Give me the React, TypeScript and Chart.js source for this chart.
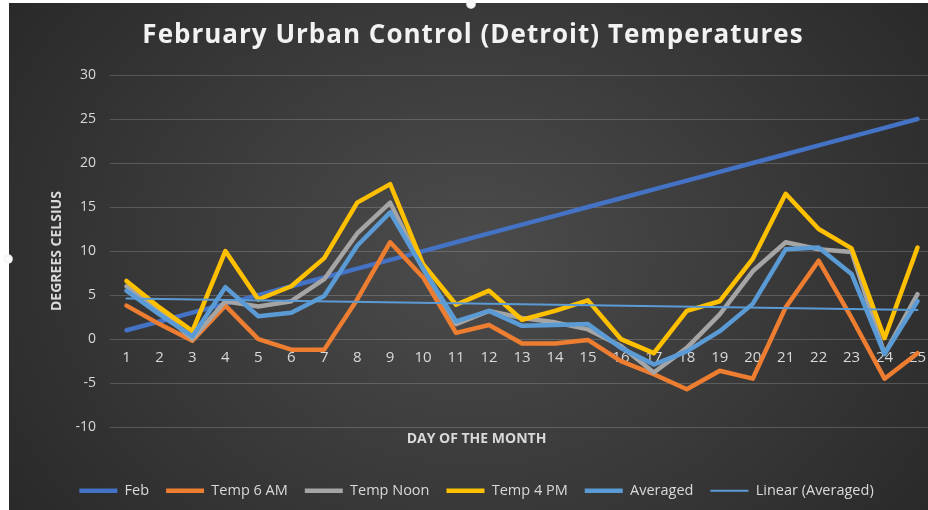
import React, { useEffect, useRef } from "react";
import { Chart, registerables } from "chart.js";

Chart.register(...registerables);

const days = ["1","2","3","4","5","6","7","8","9","10","11","12","13","14","15","16","17","18","19","20","21","22","23","24","25"];
const feb = [1,2,3,4,5,6,7,8,9,10,11,12,13,14,15,16,17,18,19,20,21,22,23,24,25];
const temp6am = [3.8,1.7,-0.2,3.8,0,-1.2,-1.2,4.5,11,7,0.7,1.6,-0.5,-0.5,-0.1,-2.5,-4,-5.7,-3.6,-4.5,3.6,8.9,2.4,-4.5,-1.6];
const tempNoon = [6.0,3.3,0,4.3,3.7,4.3,6.8,12,15.5,8,1.7,3.2,2.4,1.9,1.1,-0.8,-3.8,-1.0,2.8,7.7,11,10.2,9.9,-1.7,5.1];
const temp4pm = [6.6,3.6,0.9,10,4.5,6.0,9.2,15.5,17.6,8.5,3.9,5.5,2.2,3.2,4.4,0,-1.6,3.2,4.3,9.1,16.5,12.5,10.3,0.1,10.4];
const averaged = [5.5,2.8,0.3,5.9,2.6,3.0,4.9,10.6,14.4,8,2.0,3.2,1.5,1.6,1.7,-1.0,-2.9,-1.4,0.9,4.0,10.2,10.4,7.4,-1.7,4.3];
const trendDays = ["1","25"];
const trendValues = [4.6,3.3];

const chartTitle = "February Urban Control (Detroit) Temperatures";
const seriesNames = ["Feb","Temp 6 AM","Temp Noon","Temp 4 PM","Averaged","Linear (Averaged)"];
const seriesColors = ["#4472C4","#ED7D31","#A5A5A5","#FFC000","#5B9BD5","#5B9BD5"];

const FONT = "'Open Sans', 'DejaVu Sans', sans-serif";

const bgPlugin = {
  id: "bgGradient",
  beforeDraw(chart: any) {
    const { ctx, width, height } = chart;
    ctx.save();
    const cx = width / 2;
    const cy = height / 2;
    ctx.translate(cx, cy);
    ctx.scale(1, 0.8);
    const g = ctx.createRadialGradient(0, 0, 0, 0, 0, 600);
    g.addColorStop(0, "#4c4c4c");
    g.addColorStop(1, "#272727");
    ctx.fillStyle = g;
    ctx.fillRect(-cx - 10, -cy / 0.8 - 10, width + 20, height / 0.8 + 20);
    ctx.restore();
  },
  afterDraw(chart: any) {
    const { ctx, width } = chart;
    ctx.save();
    ctx.font = `bold 26px ${FONT}`;
    (ctx as any).letterSpacing = "1px";
    ctx.fillStyle = "#f2f2f2";
    ctx.textAlign = "center";
    ctx.textBaseline = "middle";
    ctx.fillText(chartTitle, width / 2, 33);
    ctx.restore();
  },
};

export default function App() {
  const ref = useRef<HTMLCanvasElement | null>(null);
  useEffect(() => {
    if (!ref.current) return;
    const base = (i: number, data: any, width: number) => ({
      label: seriesNames[i],
      data,
      borderColor: seriesColors[i],
      backgroundColor: seriesColors[i],
      borderWidth: width,
      pointRadius: 0,
      tension: 0,
      fill: false,
      borderJoinStyle: "round" as const,
      borderCapStyle: "round" as const,
      order: 6 - i,
    });
    const chart = new Chart(ref.current, {
      type: "line",
      data: {
        labels: days,
        datasets: [
          base(0, feb, 4.5),
          base(1, temp6am, 4.5),
          base(2, tempNoon, 4.5),
          base(3, temp4pm, 4.5),
          base(4, averaged, 4.5),
          base(5, trendDays.map((d, k) => ({ x: d, y: trendValues[k] })), 2),
        ],
      },
      options: {
        animation: false,
        responsive: false,
        devicePixelRatio: 1,
        layout: { padding: { left: 10, right: 3, top: 0, bottom: 2 } },
        plugins: {
          title: {
            display: true,
            text: chartTitle,
            color: "rgba(0,0,0,0)",
            font: { family: FONT, size: 26, weight: "bold" },
            padding: { top: 17.4, bottom: 23.4 },
          },
          subtitle: {
            display: true,
            position: "bottom",
            weight: 500,
            text: "DAY OF THE MONTH",
            color: "#d9d9d9",
            font: { family: FONT, size: 14, weight: "bold" },
            padding: { top: 3.6, bottom: 19 },
          },
          legend: {
            position: "bottom",
            labels: {
              color: "#d9d9d9",
              font: { family: FONT, size: 14.5 },
              usePointStyle: true,
              pointStyle: "line",
              pointStyleWidth: 38,
              padding: 17,
              sort: (a: any, b: any) => a.datasetIndex - b.datasetIndex,
            },
          },
          tooltip: { enabled: false },
        },
        scales: {
          x: {
            type: "category",
            offset: true,
            position: { y: 0 } as any,
            grid: { display: false, drawTicks: false },
            border: { display: false },
            ticks: {
              color: "#d9d9d9",
              font: { family: FONT, size: 15 },
              padding: 10,
              maxRotation: 0,
              autoSkip: false,
            },
          },
          y: {
            min: -10,
            max: 30,
            ticks: {
              stepSize: 5,
              color: "#d9d9d9",
              font: { family: FONT, size: 14 },
              padding: 14,
            },
            grid: { color: "rgba(217,217,217,0.22)", drawTicks: false, lineWidth: 1 },
            border: { display: false },
            title: {
              display: true,
              text: "DEGREES CELSIUS",
              color: "#d9d9d9",
              font: { family: FONT, size: 14, weight: "bold" },
              padding: { top: 30, bottom: 0 },
            },
            afterFit: (s: any) => {
              s.width = 91;
            },
          },
        },
      },
      plugins: [bgPlugin],
    });
    return () => chart.destroy();
  }, []);

  const dot = (left: number, top: number) => (
    <div
      style={{
        position: "fixed",
        left: left - 5,
        top: top - 5,
        width: 10,
        height: 10,
        borderRadius: "50%",
        background: "radial-gradient(circle, #ffffff 0%, #f4f4f4 55%, rgba(255,255,255,0) 100%)",
      }}
    />
  );

  return (
    <div>
      <div style={{ position: "fixed", left: 9, top: 3, width: 928, height: 507, overflow: "hidden" }}>
        <canvas ref={ref} width={928} height={507} style={{ display: "block", width: 928, height: 507 }} />
      </div>
      {dot(471, 4)}
      {dot(8, 259)}
    </div>
  );
}
